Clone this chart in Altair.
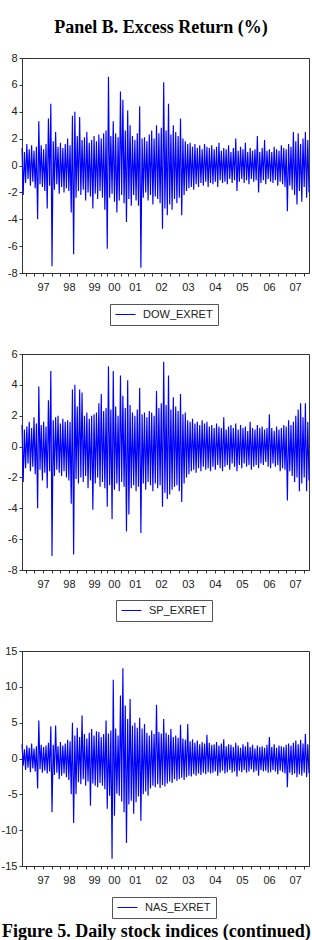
import json
import altair as alt
import pandas as pd

title_text = "Panel B. Excess Return (%)"
caption_text = "Figure 5. Daily stock indices (continued)"

series_names = ["DOW_EXRET", "SP_EXRET", "NAS_EXRET"]

# Per-column envelope (max / min of the daily excess return in each ~2-pixel slice)
dow_high = [
    1.3, 1.0, 1.6, 1.2, 1.5, 1.1, 1.4, 3.3, 1.5, 1.2,
    1.6, 3.5, 4.6, 1.8, 2.5, 1.4, 1.7, 1.3, 1.6, 2.0,
    1.5, 3.7, 4.0, 2.2, 3.6, 1.9, 2.1, 2.5, 1.7, 1.9,
    2.2, 1.8, 2.3, 2.0, 2.4, 2.6, 6.6, 2.2, 3.3, 2.4,
    2.1, 5.5, 4.9, 2.6, 4.1, 3.0, 2.2, 1.9, 2.4, 4.4,
    2.0, 2.1, 1.8, 2.3, 2.6, 2.0, 3.0, 2.4, 2.8, 6.2,
    2.6, 4.6, 2.3, 3.0, 2.5, 2.2, 3.5, 2.0, 1.8, 1.6,
    1.7, 1.4, 1.6, 1.3, 1.5, 1.2, 1.6, 1.4, 1.3, 1.5,
    1.2, 1.4, 1.7, 1.1, 1.3, 1.2, 1.5, 1.0, 1.3, 2.0,
    1.1, 1.4, 1.2, 1.7, 1.0, 1.3, 1.1, 1.2, 2.2, 1.0,
    1.3, 1.9, 1.1, 1.2, 1.0, 1.4, 1.2, 1.1, 1.5, 1.3,
    1.2, 1.6, 1.4, 2.5, 1.8, 2.4, 1.6, 2.0, 2.5, 1.9,
]
dow_low = [
    -2.2, -1.3, -1.0, -1.5, -1.2, -1.7, -4.0, -1.4, -1.6, -1.9,
    -3.2, -1.5, -7.5, -1.8, -1.4, -2.1, -1.6, -2.0, -1.7, -1.9,
    -3.5, -6.6, -2.4, -1.9, -2.2, -1.8, -2.6, -2.0, -2.3, -3.2,
    -2.1, -2.5, -1.9, -2.4, -3.3, -6.2, -2.4, -2.1, -2.7, -3.5,
    -2.6, -2.2, -2.8, -4.2, -2.5, -3.0, -2.2, -2.6, -3.0, -7.6,
    -2.4, -2.0, -2.6, -2.2, -2.9, -2.3, -2.5, -2.8, -4.7, -3.2,
    -3.7, -2.9, -3.3, -2.5, -2.8, -2.4, -3.7, -2.2, -1.9, -1.7,
    -1.6, -1.8, -1.4, -1.6, -1.3, -1.5, -1.2, -1.6, -1.3, -1.4,
    -1.2, -1.6, -1.1, -1.3, -1.2, -1.4, -1.0, -1.3, -1.1, -1.9,
    -1.2, -1.0, -1.3, -1.1, -1.4, -1.0, -1.2, -1.1, -2.0, -1.3,
    -1.1, -1.4, -1.0, -1.2, -1.3, -1.1, -1.5, -1.2, -1.4, -1.6,
    -3.4, -1.5, -1.8, -2.2, -2.9, -1.9, -2.7, -1.6, -2.4, -2.0,
]

sp_high = [
    1.4, 1.1, 1.3, 1.6, 1.2, 1.9, 1.5, 3.9, 1.4, 1.6,
    1.3, 3.0, 4.9, 1.7, 1.9, 2.0, 1.5, 1.8, 1.6, 1.7,
    1.6, 3.7, 4.0, 2.6, 3.7, 3.5, 2.0, 2.2, 1.8, 2.0,
    2.1, 2.2, 2.8, 3.4, 2.3, 2.5, 5.2, 2.4, 4.9, 2.6,
    2.0, 4.6, 3.3, 2.5, 4.3, 2.7, 2.2, 2.0, 2.4, 3.8,
    2.1, 2.2, 1.9, 2.3, 2.2, 2.0, 3.6, 2.5, 2.8, 5.5,
    2.7, 4.6, 2.4, 3.2, 2.6, 2.3, 3.4, 2.1, 2.2, 1.7,
    1.6, 1.8, 1.5, 1.6, 1.4, 1.7, 1.5, 1.6, 1.3, 1.4,
    1.2, 1.5, 1.3, 1.2, 1.9, 1.1, 1.3, 1.4, 1.2, 1.5,
    1.1, 1.4, 1.2, 1.3, 1.0, 1.6, 1.2, 1.1, 1.4, 1.2,
    1.3, 1.1, 1.2, 2.1, 1.2, 1.0, 1.3, 1.1, 1.2, 1.4,
    1.3, 1.7, 1.4, 1.6, 2.0, 2.4, 2.8, 1.9, 2.8, 1.6,
]
sp_low = [
    -2.3, -1.4, -1.1, -1.6, -1.3, -1.8, -4.0, -1.5, -2.2, -1.7,
    -2.7, -1.6, -7.1, -1.9, -1.5, -1.7, -1.9, -1.6, -2.0, -2.2,
    -3.7, -7.0, -2.1, -2.4, -2.0, -2.3, -1.9, -2.7, -2.2, -4.1,
    -2.4, -2.0, -2.6, -2.3, -2.7, -3.9, -2.5, -4.7, -2.8, -2.4,
    -2.9, -2.3, -2.6, -5.5, -4.4, -2.7, -2.5, -2.9, -2.6, -5.6,
    -2.4, -2.8, -2.3, -2.5, -2.9, -2.4, -2.7, -2.5, -3.9, -3.0,
    -3.4, -3.1, -2.8, -2.6, -2.5, -2.9, -3.6, -2.4, -2.0, -1.8,
    -1.6, -1.5, -1.7, -1.4, -1.6, -1.3, -1.5, -1.4, -1.6, -1.3,
    -1.5, -1.2, -1.4, -1.6, -1.3, -1.2, -1.5, -1.1, -1.3, -1.6,
    -1.2, -1.4, -1.1, -1.3, -1.2, -1.5, -1.3, -1.2, -1.4, -1.1,
    -1.2, -1.0, -1.3, -1.4, -1.1, -1.3, -1.2, -1.6, -1.4, -1.5,
    -3.5, -1.6, -1.9, -2.3, -2.0, -2.9, -2.4, -2.0, -2.9, -2.2,
]

nas_high = [
    2.0, 1.3, 1.8, 1.5, 2.1, 1.4, 1.7, 5.3, 1.9, 1.6,
    1.8, 2.2, 4.5, 1.9, 4.6, 1.7, 2.3, 1.8, 2.1, 2.6,
    2.4, 5.0, 3.2, 4.3, 3.0, 6.0, 3.4, 2.8, 3.6, 4.1,
    3.2, 3.8, 3.7, 3.0, 3.4, 5.3, 3.5, 3.9, 11.0, 4.2,
    3.2, 8.8, 12.6, 7.4, 5.5, 8.3, 4.6, 5.0, 4.3, 5.7,
    4.2, 4.8, 3.6, 3.2, 3.9, 3.4, 7.5, 3.7, 3.5, 5.5,
    3.6, 3.3, 4.1, 3.0, 3.2, 2.9, 4.7, 2.8, 2.6, 4.8,
    2.4, 2.7, 2.2, 2.5, 2.0, 2.3, 2.1, 3.3, 2.2, 1.9,
    2.0, 2.3, 1.8, 2.1, 2.7, 1.7, 2.0, 1.9, 1.6, 2.2,
    1.8, 1.5, 2.0, 1.7, 2.3, 1.6, 1.9, 1.4, 1.8, 1.6,
    1.7, 1.5, 1.9, 3.0, 1.6, 2.0, 1.5, 1.8, 1.7, 1.6,
    1.9, 2.1, 1.8, 2.2, 2.5, 2.0, 2.6, 2.1, 3.4, 2.0,
]
nas_low = [
    -1.0, -1.6, -1.3, -1.9, -1.4, -1.8, -4.2, -1.5, -2.0, -1.7,
    -2.1, -1.8, -7.5, -2.3, -2.0, -2.9, -2.4, -2.1, -2.6, -3.0,
    -5.0, -9.0, -5.0, -3.3, -3.6, -2.9, -3.8, -3.2, -6.6, -3.5,
    -3.8, -4.0, -3.4, -3.8, -4.3, -7.0, -5.2, -14.0, -8.0, -4.9,
    -5.2, -6.0, -7.5, -11.8, -6.4, -5.9, -7.7, -6.1, -5.3, -8.7,
    -5.0, -4.6, -5.2, -4.2, -3.8, -4.0, -3.6, -4.1, -3.7, -3.9,
    -3.5, -3.2, -3.4, -2.9, -3.1, -2.9, -2.7, -3.0, -2.6, -2.4,
    -2.5, -2.2, -2.4, -2.1, -2.3, -2.0, -2.2, -1.9, -2.1, -2.0,
    -1.8, -2.4, -2.0, -1.7, -2.1, -1.9, -1.6, -2.0, -1.8, -2.5,
    -1.7, -1.9, -1.6, -2.0, -1.8, -1.5, -1.9, -1.7, -2.4, -1.6,
    -1.8, -1.7, -2.0, -1.9, -1.6, -1.8, -2.2, -1.7, -1.9, -2.1,
    -4.0, -2.0, -2.3, -2.1, -2.6, -2.2, -2.4, -2.0, -2.6, -2.1,
]

year_labels = ["97", "98", "99", "00", "01", "02", "03", "04", "05", "06", "07"]
year_pos = [17.5, 39.1, 60.0, 76.6, 94.1, 115.8, 138.2, 160.7, 183.2, 205.7, 227.4]

y_ticks_dow = [-8, -6, -4, -2, 0, 2, 4, 6, 8]
y_ticks_sp = [-8, -6, -4, -2, 0, 2, 4, 6]
y_ticks_nas = [-15, -10, -5, 0, 5, 10, 15]

LABEL_FONT = "Liberation Sans"
SERIF = "Liberation Serif"
BLUE = "#0000ff"
AXIS_COLOR = "#333333"


def series_frame(name, highs, lows):
    assert len(highs) == len(lows)
    rows = []
    for i, (h, l) in enumerate(zip(highs, lows)):
        rows.append({"obs": 2 * i, "value": h, "series": name})
        rows.append({"obs": 2 * i + 1, "value": l, "series": name})
    return pd.DataFrame(rows)


n_obs = 2 * len(dow_high) - 1

# x tick marks: every third of a year between the labelled years
x_ticks = []
first_step = (year_pos[1] - year_pos[0]) / 3
x_ticks += [year_pos[0] - 2 * first_step, year_pos[0] - first_step]
for a, b in zip(year_pos[:-1], year_pos[1:]):
    x_ticks += [a, a + (b - a) / 3, a + 2 * (b - a) / 3]
last_step = (year_pos[-1] - year_pos[-2]) / 3
x_ticks += [year_pos[-1], year_pos[-1] + last_step]

pos_js = json.dumps(year_pos)
lab_js = json.dumps(year_labels)
x_label_expr = (
    f"indexof({pos_js}, datum.value) >= 0 ? "
    f"{lab_js}[indexof({pos_js}, datum.value)] : ''"
)


def panel(df, y_domain, y_ticks, legend_x, height, extra_layers=()):
    x_axis = alt.Axis(
        values=x_ticks, labelExpr=x_label_expr, title=None, grid=False,
        tickSize=3, labelPadding=5, labelFont=LABEL_FONT, labelFontSize=11,
        labelColor="#222222", labelOverlap=False, labelFlush=False,
        domainColor=AXIS_COLOR, tickColor=AXIS_COLOR,
    )
    y_axis = alt.Axis(
        values=y_ticks, labelExpr="'' + datum.value", title=None, grid=False,
        tickSize=3, labelPadding=2, labelFont=LABEL_FONT, labelFontSize=11,
        labelColor="#222222", domainColor=AXIS_COLOR, tickColor=AXIS_COLOR,
    )
    legend = alt.Legend(
        orient="none", legendX=legend_x, legendY=246, title=None,
        direction="horizontal", strokeColor="#555555", fillColor="white",
        padding=5, symbolType="M-1,0H3", symbolSize=100, symbolStrokeWidth=1,
        labelOffset=17, labelFont=LABEL_FONT, labelFontSize=11,
        labelColor="#222222",
    )
    line = alt.Chart(df).mark_line(strokeWidth=1.15).encode(
        x=alt.X("obs:Q", scale=alt.Scale(domain=[0, n_obs], nice=False, zero=False), axis=x_axis),
        y=alt.Y("value:Q", scale=alt.Scale(domain=y_domain, nice=False), axis=y_axis),
        color=alt.Color("series:N", scale=alt.Scale(range=[BLUE]), legend=legend),
    )
    return alt.layer(line, *extra_layers).properties(width=287, height=height)


title_layer = alt.Chart(pd.DataFrame({"t": [title_text]})).mark_text(
    font=SERIF, fontSize=18, fontWeight="bold", align="center",
    baseline="middle", color="black",
).encode(text="t:N", x=alt.value(139), y=alt.value(-30))

caption_layer = alt.Chart(pd.DataFrame({"t": [caption_text]})).mark_text(
    font=SERIF, fontSize=18, fontWeight="bold", align="left",
    baseline="alphabetic", color="black",
).encode(text="t:N", x=alt.value(-20), y=alt.value(286))

p1 = panel(series_frame(series_names[0], dow_high, dow_low), [-8, 8], y_ticks_dow, 88, 215, [title_layer])
p2 = panel(series_frame(series_names[1], sp_high, sp_low), [-8, 6], y_ticks_sp, 94, 216)
p3 = panel(series_frame(series_names[2], nas_high, nas_low), [-15, 15], y_ticks_nas, 90, 215, [caption_layer])

chart = (
    alt.vconcat(p1, p2, p3, spacing=81, bounds="flush")
    .resolve_scale(x="independent", y="independent", color="independent")
    .resolve_legend(color="independent")
    .properties(padding={"left": 0, "top": 18, "right": 0, "bottom": 0}, background="white")
    .configure_view(stroke=AXIS_COLOR, strokeWidth=1)
)

chart.save("out.html", embed_options={"renderer": "svg", "actions": False})
